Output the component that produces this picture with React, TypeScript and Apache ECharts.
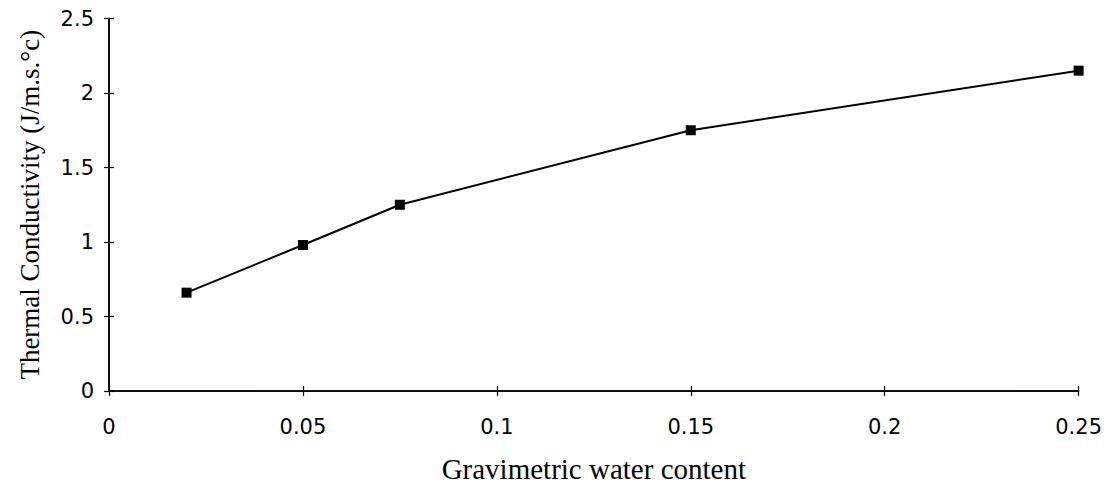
import React, { useEffect, useRef } from "react";
import * as echarts from "echarts";

const waterContent = [0.02, 0.05, 0.075, 0.15, 0.25];
const conductivity = [0.66, 0.98, 1.25, 1.75, 2.15];
const xTitle = "Gravimetric water content";
const yTitle = "Thermal Conductivity (J/m.s.°c)";

export default function App() {
  const ref = useRef<HTMLDivElement>(null);
  useEffect(() => {
    const chart = echarts.init(ref.current!, null, { renderer: "svg" });
    const labelStyle = { color: "#000", fontFamily: "DejaVu Sans", fontSize: 21 };
    const baseX = {
      type: "value",
      min: 0,
      max: 0.25,
      interval: 0.05,
      splitLine: { show: false },
      axisLine: { show: true, lineStyle: { color: "#000", width: 1.5 } },
    };
    const baseY = {
      type: "value",
      min: 0,
      max: 2.5,
      interval: 0.5,
      splitLine: { show: false },
      axisLine: { show: true, lineStyle: { color: "#000", width: 1.5 } },
    };
    chart.setOption({
      animation: false,
      backgroundColor: "#fff",
      grid: { left: 94, right: 22, top: 10, bottom: 91, containLabel: false },
      xAxis: [
        {
          ...baseX,
          name: xTitle,
          nameLocation: "middle",
          nameGap: 63,
          nameTextStyle: { color: "#000", fontFamily: "Liberation Serif", fontSize: 29 },
          axisTick: { show: true, length: 5, lineStyle: { color: "#000", width: 1.2 } },
          axisLabel: { ...labelStyle, margin: 25, formatter: (v: number) => String(+v.toFixed(2)) },
        },
        {
          ...baseX,
          position: "bottom",
          axisTick: { show: true, inside: true, length: 5, lineStyle: { color: "#000", width: 1.2 } },
          axisLabel: { show: false },
        },
      ],
      yAxis: [
        {
          ...baseY,
          name: yTitle,
          nameLocation: "middle",
          nameGap: 66,
          nameTextStyle: { color: "#000", fontFamily: "Liberation Serif", fontSize: 27 },
          axisTick: { show: true, length: 5, lineStyle: { color: "#000", width: 1.2 } },
          axisLabel: { ...labelStyle, margin: 15, formatter: (v: number) => String(+v.toFixed(1)) },
        },
        {
          ...baseY,
          position: "left",
          axisTick: { show: true, inside: true, length: 5, lineStyle: { color: "#000", width: 1.2 } },
          axisLabel: { show: false },
        },
      ],
      series: [
        {
          type: "line",
          data: waterContent.map((x, i) => [x, conductivity[i]]),
          symbol: "rect",
          symbolSize: 10,
          lineStyle: { color: "#000", width: 2 },
          itemStyle: { color: "#000" },
        },
      ],
    });
    return () => chart.dispose();
  }, []);
  return <div ref={ref} style={{ width: 1097, height: 480 }} />;
}
